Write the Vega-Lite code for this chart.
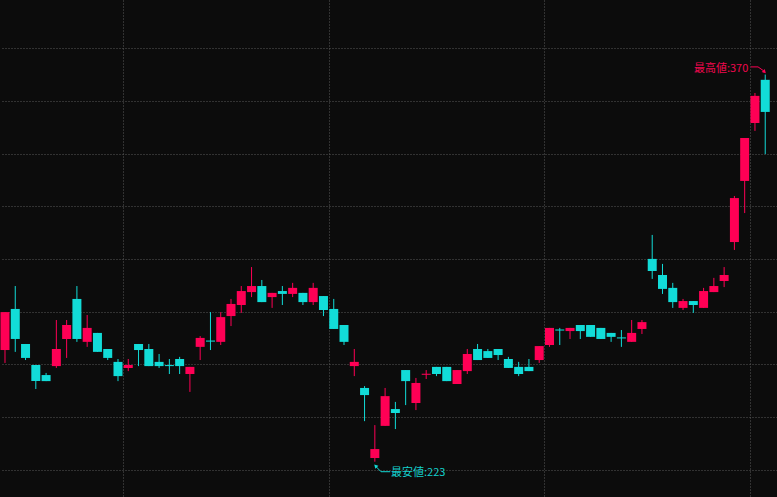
{
  "$schema": "https://vega.github.io/schema/vega-lite/v6.json",
  "width": 777,
  "height": 497,
  "autosize": {"type": "fit", "contains": "padding"},
  "padding": 0,
  "background": "#0c0c0c",
  "config": {
    "view": {"stroke": null},
    "axis": {"labels": false, "ticks": false, "domain": false, "title": null, "grid": true, "gridColor": "#585858", "gridDash": [1, 2], "gridWidth": 1}
  },
  "datasets": {
    "candles": [
      {"i":0,"o":265.4,"h":279.8,"l":260.5,"c":279.8},
      {"i":1,"o":281.0,"h":289.7,"l":264.7,"c":269.6},
      {"i":2,"o":267.7,"h":267.7,"l":261.6,"c":262.4},
      {"i":3,"o":259.7,"h":259.7,"l":250.6,"c":253.6},
      {"i":4,"o":255.9,"h":256.7,"l":253.6,"c":253.6},
      {"i":5,"o":259.3,"h":276.8,"l":258.6,"c":265.8},
      {"i":6,"o":269.6,"h":276.8,"l":262.4,"c":274.9},
      {"i":7,"o":284.8,"h":289.7,"l":268.5,"c":269.6},
      {"i":8,"o":268.5,"h":278.7,"l":266.6,"c":273.8},
      {"i":9,"o":271.9,"h":271.9,"l":264.7,"c":264.7},
      {"i":10,"o":265.8,"h":265.8,"l":261.6,"c":262.4},
      {"i":11,"o":260.9,"h":262.0,"l":253.6,"c":255.5},
      {"i":12,"o":258.6,"h":262.0,"l":257.4,"c":259.7},
      {"i":13,"o":267.7,"h":267.7,"l":259.3,"c":265.4},
      {"i":14,"o":265.8,"h":267.7,"l":259.3,"c":259.3},
      {"i":15,"o":260.9,"h":263.9,"l":258.6,"c":259.3},
      {"i":16,"o":259.7,"h":262.0,"l":256.3,"c":259.3},
      {"i":17,"o":262.0,"h":262.8,"l":256.3,"c":259.3},
      {"i":18,"o":256.3,"h":259.0,"l":249.5,"c":259.0},
      {"i":19,"o":266.6,"h":270.7,"l":261.6,"c":270.0},
      {"i":20,"o":269.0,"h":279.8,"l":265.4,"c":268.6},
      {"i":21,"o":268.5,"h":279.8,"l":267.3,"c":277.9},
      {"i":22,"o":278.3,"h":284.8,"l":274.5,"c":282.9},
      {"i":23,"o":282.5,"h":289.7,"l":279.5,"c":287.8},
      {"i":24,"o":287.4,"h":296.9,"l":285.5,"c":289.7},
      {"i":25,"o":289.7,"h":292.0,"l":283.6,"c":283.6},
      {"i":26,"o":285.5,"h":287.1,"l":281.4,"c":287.1},
      {"i":27,"o":287.8,"h":289.7,"l":282.5,"c":286.7},
      {"i":28,"o":286.7,"h":290.9,"l":285.5,"c":289.0},
      {"i":29,"o":287.1,"h":287.1,"l":282.5,"c":283.6},
      {"i":30,"o":283.6,"h":290.9,"l":282.5,"c":289.0},
      {"i":31,"o":285.9,"h":285.9,"l":278.3,"c":280.6},
      {"i":32,"o":281.0,"h":284.8,"l":273.4,"c":273.4},
      {"i":33,"o":274.9,"h":274.9,"l":267.3,"c":268.5},
      {"i":34,"o":259.3,"h":265.8,"l":255.5,"c":260.9},
      {"i":35,"o":251.0,"h":251.7,"l":238.4,"c":248.3},
      {"i":36,"o":224.4,"h":236.9,"l":223.0,"c":227.8},
      {"i":37,"o":236.6,"h":251.0,"l":236.6,"c":247.9},
      {"i":38,"o":243.0,"h":245.7,"l":235.4,"c":241.5},
      {"i":39,"o":257.8,"h":257.8,"l":244.5,"c":253.6},
      {"i":40,"o":245.3,"h":254.8,"l":242.6,"c":252.9},
      {"i":41,"o":256.0,"h":257.8,"l":254.4,"c":256.4},
      {"i":42,"o":259.0,"h":259.0,"l":255.5,"c":256.3},
      {"i":43,"o":259.0,"h":259.0,"l":253.6,"c":253.6},
      {"i":44,"o":252.5,"h":257.8,"l":252.5,"c":257.8},
      {"i":45,"o":257.4,"h":265.8,"l":256.3,"c":263.9},
      {"i":46,"o":265.8,"h":267.7,"l":261.6,"c":261.6},
      {"i":47,"o":265.0,"h":265.8,"l":262.4,"c":262.4},
      {"i":48,"o":265.8,"h":265.8,"l":261.6,"c":263.5},
      {"i":49,"o":262.0,"h":262.8,"l":258.6,"c":258.6},
      {"i":50,"o":259.0,"h":260.9,"l":255.5,"c":256.3},
      {"i":51,"o":259.0,"h":262.0,"l":257.4,"c":257.4},
      {"i":52,"o":261.6,"h":266.9,"l":260.5,"c":266.9},
      {"i":53,"o":267.3,"h":273.8,"l":266.6,"c":273.8},
      {"i":54,"o":273.2,"h":273.8,"l":267.3,"c":272.8},
      {"i":55,"o":272.6,"h":273.8,"l":269.6,"c":273.8},
      {"i":56,"o":274.9,"h":274.9,"l":269.6,"c":272.6},
      {"i":57,"o":274.9,"h":274.9,"l":270.4,"c":270.4},
      {"i":58,"o":273.8,"h":273.8,"l":269.6,"c":269.6},
      {"i":59,"o":271.9,"h":271.9,"l":268.5,"c":270.4},
      {"i":60,"o":270.2,"h":273.0,"l":266.6,"c":269.8},
      {"i":61,"o":268.5,"h":276.8,"l":268.5,"c":271.9},
      {"i":62,"o":273.4,"h":276.8,"l":271.5,"c":276.0},
      {"i":63,"o":300.0,"h":309.1,"l":292.4,"c":295.4},
      {"i":64,"o":293.9,"h":298.1,"l":286.7,"c":288.6},
      {"i":65,"o":289.0,"h":290.9,"l":281.4,"c":283.6},
      {"i":66,"o":281.4,"h":284.8,"l":280.6,"c":284.0},
      {"i":67,"o":284.0,"h":284.0,"l":279.5,"c":282.5},
      {"i":68,"o":281.4,"h":289.0,"l":281.4,"c":287.8},
      {"i":69,"o":287.4,"h":292.8,"l":287.4,"c":289.7},
      {"i":70,"o":291.6,"h":296.9,"l":289.3,"c":293.9},
      {"i":71,"o":306.4,"h":323.9,"l":303.4,"c":323.1},
      {"i":72,"o":329.6,"h":345.9,"l":317.4,"c":345.9},
      {"i":73,"o":351.6,"h":363.0,"l":348.6,"c":361.9},
      {"i":74,"o":368.0,"h":370.0,"l":339.8,"c":355.8}
    ],
    "loLabel": [{"i": 37.57, "p": 217.4, "t": "最安値:223"}],
    "hiLabel": [{"i": 72.35, "p": 371.0, "t": "最高値:370"}],
    "loArrow": [{"i": 36.1, "p": 221.2, "k": 0}, {"i": 36.6, "p": 219.2, "k": 1}, {"i": 37.5, "p": 219.2, "k": 2}],
    "hiArrow": [{"i": 72.6, "p": 372.9, "k": 0}, {"i": 73.3, "p": 372.9, "k": 1}, {"i": 73.85, "p": 371.4, "k": 2}],
    "loHead": [{"i": 36.07, "p": 221.4}],
    "hiHead": [{"i": 73.93, "p": 371.0}]
  },
  "encoding": {
    "x": {"field": "i", "type": "quantitative", "scale": {"domain": [-0.291, 75.146], "nice": false, "zero": false, "padding": 0}, "axis": {"values": [11.5, 31.5, 52.5, 72.5]}}
  },
  "layer": [
    {
      "data": {"name": "candles"},
      "mark": {"type": "rule", "strokeWidth": 1},
      "encoding": {
        "y": {"field": "l", "type": "quantitative", "scale": {"domain": [209.6, 398.3], "nice": false, "zero": false}, "axis": {"values": [220, 240, 260, 280, 300, 320, 340, 360, 380]}},
        "y2": {"field": "h"},
        "color": {"condition": {"test": "datum.c >= datum.o", "value": "#ff0055"}, "value": "#12dcd8"}
      }
    },
    {
      "data": {"name": "candles"},
      "mark": {"type": "bar", "size": 9},
      "encoding": {
        "y": {"field": "o", "type": "quantitative", "scale": {"domain": [209.6, 398.3], "nice": false, "zero": false}, "axis": {"values": [220, 240, 260, 280, 300, 320, 340, 360, 380]}},
        "y2": {"field": "c"},
        "color": {"condition": {"test": "datum.c >= datum.o", "value": "#ff0055"}, "value": "#12dcd8"}
      }
    },
    {
      "data": {"name": "loArrow"},
      "mark": {"type": "line", "color": "#12dcd8", "strokeWidth": 1},
      "encoding": {
        "y": {"field": "p", "type": "quantitative", "scale": {"domain": [209.6, 398.3], "nice": false, "zero": false}, "axis": {"values": [220, 240, 260, 280, 300, 320, 340, 360, 380]}},
        "order": {"field": "k"}
      }
    },
    {
      "data": {"name": "hiArrow"},
      "mark": {"type": "line", "color": "#ff0055", "strokeWidth": 1},
      "encoding": {
        "y": {"field": "p", "type": "quantitative", "scale": {"domain": [209.6, 398.3], "nice": false, "zero": false}, "axis": {"values": [220, 240, 260, 280, 300, 320, 340, 360, 380]}},
        "order": {"field": "k"}
      }
    },
    {
      "data": {"name": "loHead"},
      "mark": {"type": "point", "shape": "triangle-up", "filled": true, "color": "#12dcd8", "size": 18, "angle": -45, "opacity": 1},
      "encoding": {
        "y": {"field": "p", "type": "quantitative", "scale": {"domain": [209.6, 398.3], "nice": false, "zero": false}, "axis": {"values": [220, 240, 260, 280, 300, 320, 340, 360, 380]}}
      }
    },
    {
      "data": {"name": "hiHead"},
      "mark": {"type": "point", "shape": "triangle-up", "filled": true, "color": "#ff0055", "size": 18, "angle": 135, "opacity": 1},
      "encoding": {
        "y": {"field": "p", "type": "quantitative", "scale": {"domain": [209.6, 398.3], "nice": false, "zero": false}, "axis": {"values": [220, 240, 260, 280, 300, 320, 340, 360, 380]}}
      }
    },
    {
      "data": {"name": "loLabel"},
      "mark": {"type": "text", "align": "left", "baseline": "alphabetic", "font": "Noto Sans CJK JP", "fontSize": 11, "color": "#14d0cc"},
      "encoding": {
        "y": {"field": "p", "type": "quantitative", "scale": {"domain": [209.6, 398.3], "nice": false, "zero": false}, "axis": {"values": [220, 240, 260, 280, 300, 320, 340, 360, 380]}},
        "text": {"field": "t"}
      }
    },
    {
      "data": {"name": "hiLabel"},
      "mark": {"type": "text", "align": "right", "baseline": "alphabetic", "font": "Noto Sans CJK JP", "fontSize": 11, "color": "#f0084e"},
      "encoding": {
        "y": {"field": "p", "type": "quantitative", "scale": {"domain": [209.6, 398.3], "nice": false, "zero": false}, "axis": {"values": [220, 240, 260, 280, 300, 320, 340, 360, 380]}},
        "text": {"field": "t"}
      }
    }
  ]
}
